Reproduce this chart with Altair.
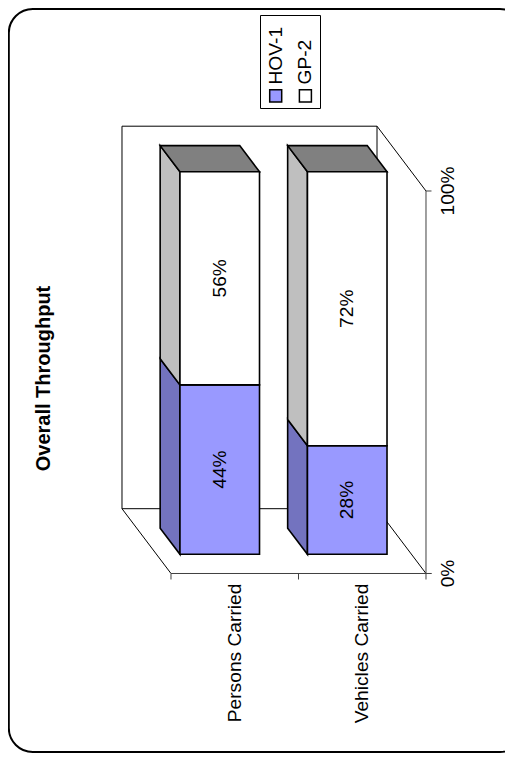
import altair as alt
import pandas as pd

# ---- values ----
categories = ["Persons Carried", "Vehicles Carried"]
series_names = ["HOV-1", "GP-2"]
hov_values = [44.3, 28.4]
gp_values = [55.7, 71.6]
value_ticks = [0, 100]
title_text = "Overall Throughput"

# ---- styling ----
W, H = 497, 745
IMG_R, IMG_B = 8 + W, 8 + H
FONT = "Liberation Sans"
FS = 19.2
front_fill = {"HOV-1": "#9999FF", "GP-2": "#FFFFFF"}
side_fill = {"HOV-1": "#7373BF", "GP-2": "#BFBFBF"}
top_fill = "#808080"

# oblique projection of the 3D box: one unit of depth in slot/percent units
DX, DY = -0.3843, 16.94
BAR_L, BAR_R = 0.184, 0.808
D_FRONT, D_BACK = 0.296, 0.70

x_scale = alt.Scale(domain=[-1.2784, (IMG_R - 171) / 127.5], range=[0, W], nice=False, zero=False)
y_scale = alt.Scale(domain=[(573.5 - IMG_B) / 3.825, 147.84], range=[H, 0], nice=False, zero=False)
X = alt.X("x:Q", scale=x_scale, axis=None)
Y = alt.Y("y:Q", scale=y_scale, axis=None)
X2 = alt.X2("x2:Q")
Y2 = alt.Y2("y2:Q")


def px(slot, d=0.0):
    return slot + DX * d


def py(val, d=0.0):
    return val + DY * d


front_rows, side_rows, top_rows, label_rows = [], [], [], []
for i, cat in enumerate(categories):
    base = 0
    for name, val in zip(series_names, (hov_values[i], gp_values[i])):
        lo, hi = base, base + val
        front_rows.append({"x": px(i + BAR_L, D_FRONT), "x2": px(i + BAR_R, D_FRONT),
                           "y": py(lo, D_FRONT), "y2": py(hi, D_FRONT), "fill": front_fill[name]})
        for d in (D_BACK, D_FRONT):
            side_rows.append({"id": f"{i}{name}", "x": px(i + BAR_L, d), "y": py(hi, d),
                              "y2": py(lo, d), "fill": side_fill[name]})
        label_rows.append({"x": px(i + (BAR_L + BAR_R) / 2, D_FRONT), "y": py((lo + hi) / 2, D_FRONT),
                           "t": f"{round(val)}%"})
        base = hi
    for d in (D_BACK, D_FRONT):
        top_rows.append({"id": str(i), "x": px(i + BAR_L, d), "x2": px(i + BAR_R, d), "y": py(100, d)})

n = len(categories)

frame = alt.Chart(pd.DataFrame({"a": [0]})).mark_rect(
    fill="white", stroke="black", strokeWidth=2, cornerRadius=24
).encode(x=alt.value(0.8), x2=alt.value(516), y=alt.value(1), y2=alt.value(H - 1))

wall = alt.Chart(pd.DataFrame([{"x": px(0, 1), "x2": px(n, 1), "y": py(0, 1), "y2": py(100, 1)}])).mark_rect(
    fill="white", stroke="black", strokeWidth=1
).encode(x=X, x2=X2, y=Y, y2=Y2)

diag_rows = [
    {"x": px(0, 1), "x2": px(0, 0), "y": py(0, 1), "y2": py(0, 0)},
    {"x": px(n, 1), "x2": px(n, 0), "y": py(0, 1), "y2": py(0, 0)},
    {"x": px(n, 1), "x2": px(n, 0), "y": py(100, 1), "y2": py(100, 0)},
]
diags = alt.Chart(pd.DataFrame(diag_rows)).mark_rule(color="black", strokeWidth=1).encode(x=X, x2=X2, y=Y, y2=Y2)

TICK_X = 5.5 / 127.5
TICK_Y = 6 / 3.825
axis_rows = [{"x": 0, "x2": n + TICK_X, "y": 0, "y2": 0}, {"x": n, "x2": n, "y": 0, "y2": 100}]
axis_rows += [{"x": s, "x2": s, "y": 0, "y2": -TICK_Y} for s in range(n + 1)]
axis_rows += [{"x": n, "x2": n + TICK_X, "y": v, "y2": v} for v in value_ticks]
axes = alt.Chart(pd.DataFrame(axis_rows)).mark_rule(color="#404040", strokeWidth=1).encode(x=X, x2=X2, y=Y, y2=Y2)

fill_enc = alt.Fill("fill:N", scale=None, legend=None)

sides = alt.Chart(pd.DataFrame(side_rows)).mark_area(
    orient="vertical", stroke="black", strokeWidth=1.6, interpolate="linear"
).encode(x=X, y=Y, y2=Y2, detail="id:N", fill=fill_enc)

tops = alt.Chart(pd.DataFrame(top_rows)).mark_area(
    orient="horizontal", stroke="black", strokeWidth=1.6, fill=top_fill, interpolate="linear"
).encode(y=Y, x=X, x2=X2, detail="id:N")

fronts = alt.Chart(pd.DataFrame(front_rows)).mark_rect(stroke="black", strokeWidth=1.6).encode(
    x=X, x2=X2, y=Y, y2=Y2, fill=fill_enc
)

labels = alt.Chart(pd.DataFrame(label_rows)).mark_text(
    angle=270, font=FONT, fontSize=FS, color="black", align="center", baseline="middle"
).encode(x=X, y=Y, text="t:N")

cat_df = pd.DataFrame({"x": [i + 0.5 for i in range(n)], "y": [-TICK_Y * 1.6] * n, "t": categories})
cat_labels = alt.Chart(cat_df).mark_text(
    angle=270, font=FONT, fontSize=FS, color="black", align="right", baseline="middle", dx=-0.5
).encode(x=X, y=Y, text="t:N")

val_df = pd.DataFrame({"y": value_ticks, "t": [f"{v}%" for v in value_ticks]})
val_labels = alt.Chart(val_df).mark_text(
    angle=270, font=FONT, fontSize=FS, color="black", align="center", baseline="middle"
).encode(x=alt.value(439.5), y=alt.Y("y:Q", scale=y_scale, axis=None), text="t:N")

title = alt.Chart(pd.DataFrame({"t": [title_text]})).mark_text(
    angle=270, font=FONT, fontSize=20, fontWeight="bold", color="black", align="center", baseline="middle"
).encode(x=alt.value(36), y=alt.value(370.5), text="t:N")

legend_box = alt.Chart(pd.DataFrame({"a": [0]})).mark_rect(fill="white", stroke="black", strokeWidth=1).encode(
    x=alt.value(252.5), x2=alt.value(312.5), y=alt.value(7.5), y2=alt.value(100.5)
)
legend_layers = [legend_box]
for k, name in enumerate(series_names):
    x0 = 261.7 + k * 29.7
    legend_layers.append(
        alt.Chart(pd.DataFrame({"a": [0]})).mark_rect(fill=front_fill[name], stroke="black", strokeWidth=1.5).encode(
            x=alt.value(x0), x2=alt.value(x0 + 12), y=alt.value(81.7), y2=alt.value(94)
        )
    )
    legend_layers.append(
        alt.Chart(pd.DataFrame({"t": [name]})).mark_text(
            angle=270, font=FONT, fontSize=FS, color="black", align="left", baseline="middle"
        ).encode(x=alt.value(x0 + 6), y=alt.value(76.5), text="t:N")
    )

chart = alt.layer(
    frame, wall, diags, axes, sides, tops, fronts, labels, cat_labels, val_labels, title, *legend_layers
).properties(
    width=W, height=H, padding=0, background="white",
    autosize=alt.AutoSizeParams(type="none"),
).configure_view(strokeWidth=0)

chart.save("out.html", embed_options={"renderer": "svg", "actions": False})
